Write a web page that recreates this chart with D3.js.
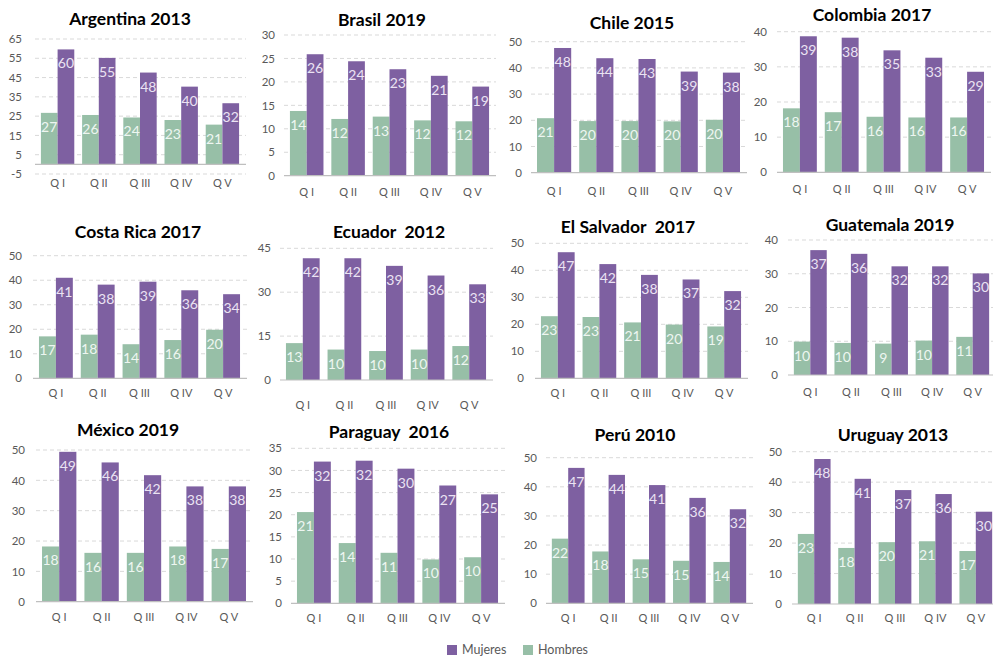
<!DOCTYPE html>
<html>
<head>
<meta charset="utf-8">
<script src="https://cdn.jsdelivr.net/npm/d3@7"></script>
<style>
  html, body { margin: 0; padding: 0; background: #ffffff; }
  svg { display: block; font-family: Lato, "Open Sans", sans-serif; }
</style>
</head>
<body>
<svg id="chart" width="993" height="658"></svg>
<script>
// Quintiles shared by every panel
const quintiles = ["Q I", "Q II", "Q III", "Q IV", "Q V"];
const seriesNames = ["Hombres", "Mujeres"];

// Panel titles
const countries = [
  "Argentina 2013", "Brasil 2019", "Chile 2015", "Colombia 2017",
  "Costa Rica 2017", "Ecuador  2012", "El Salvador  2017", "Guatemala 2019",
  "México 2019", "Paraguay  2016", "Perú 2010", "Uruguay 2013"
];

// Women, by quintile
const mujeres = [
  [59.6, 55.2, 47.6, 40.3, 31.7],
  [25.9, 24.4, 22.7, 21.3, 19.0],
  [47.6, 43.7, 43.4, 38.6, 38.2],
  [38.7, 38.3, 34.7, 32.6, 28.6],
  [41.0, 38.2, 39.4, 35.9, 34.3],
  [41.6, 41.6, 39.0, 35.7, 32.7],
  [46.7, 42.3, 38.3, 36.6, 32.3],
  [37.0, 35.9, 32.2, 32.2, 30.1],
  [49.4, 45.9, 41.7, 38.0, 38.0],
  [32.0, 32.2, 30.4, 26.6, 24.6],
  [46.5, 44.1, 40.6, 36.2, 32.3],
  [47.6, 41.1, 37.4, 36.1, 30.3]
];

// Men, by quintile
const hombres = [
  [26.7, 25.6, 24.3, 23.0, 20.6],
  [13.8, 12.1, 12.6, 11.8, 11.6],
  [20.8, 19.7, 19.7, 19.6, 20.2],
  [18.2, 17.1, 15.8, 15.6, 15.6],
  [17.1, 17.8, 13.9, 15.6, 19.8],
  [12.6, 10.4, 9.9, 10.4, 11.6],
  [23.0, 22.7, 20.7, 19.9, 19.2],
  [9.9, 9.5, 9.3, 10.2, 11.3],
  [18.2, 16.1, 16.1, 18.2, 17.4],
  [20.6, 13.6, 11.4, 9.9, 10.4],
  [22.2, 17.8, 15.1, 14.6, 14.2],
  [23.0, 18.4, 20.3, 20.6, 17.4]
];

// Y-axis tick labels of each panel
const yTicks = [
  [-5, 5, 15, 25, 35, 45, 55, 65],
  [0, 5, 10, 15, 20, 25, 30],
  [0, 10, 20, 30, 40, 50],
  [0, 10, 20, 30, 40],
  [0, 10, 20, 30, 40, 50],
  [0, 15, 30, 45],
  [0, 10, 20, 30, 40, 50],
  [0, 10, 20, 30, 40],
  [0, 10, 20, 30, 40, 50],
  [0, 5, 10, 15, 20, 25, 30, 35],
  [0, 10, 20, 30, 40, 50],
  [0, 10, 20, 30, 40, 50]
];

// Panel placement: plot left/right, pixel rows of the lowest/highest tick,
// title centre, tick-label right edge, category-label row
const layout = [
  { l: 37,  r: 243, top: 39,    bot: 174,   tx: 130, ty: 19,    tr: 22,  xl: 183 },
  { l: 286, r: 493, top: 35,    bot: 175.7, tx: 382, ty: 20,    tr: 275, xl: 192.5 },
  { l: 533, r: 744, top: 41.7,  bot: 172.7, tx: 632, ty: 22.7,  tr: 522, xl: 191.5 },
  { l: 779, r: 988, top: 31.7,  bot: 172.3, tx: 872, ty: 15,    tr: 767, xl: 189 },
  { l: 35,  r: 244, top: 255.7, bot: 378.3, tx: 138, ty: 231.7, tr: 22,  xl: 393 },
  { l: 282, r: 490, top: 248.3, bot: 380,   tx: 389, ty: 231.7, tr: 271, xl: 405 },
  { l: 537, r: 745, top: 243.3, bot: 378.3, tx: 628, ty: 226.7, tr: 524, xl: 393 },
  { l: 790, r: 993, top: 240,   bot: 375,   tx: 890, ty: 225,   tr: 778, xl: 392.5 },
  { l: 38,  r: 250, top: 450,   bot: 601.7, tx: 128, ty: 430,   tr: 25,  xl: 617 },
  { l: 293, r: 502, top: 448.3, bot: 603.3, tx: 389, ty: 431.7, tr: 282, xl: 618 },
  { l: 548, r: 750, top: 457.7, bot: 603.3, tx: 635, ty: 435,   tr: 537, xl: 618 },
  { l: 794, r: 996, top: 451.7, bot: 604,   tx: 893, ty: 435,   tr: 782, xl: 618 }
];

const colors = { Mujeres: "#7e60a1", Hombres: "#97bfa7" };
const labelColors = { Mujeres: "#ebe3f3", Hombres: "#eef6f1" };
const fmt = d3.format(".0f");

const svg = d3.select("#chart");

countries.forEach((title, i) => {
  const L = layout[i];
  const ticks = yTicks[i];
  const g = svg.append("g");

  const y = d3.scaleLinear()
    .domain([ticks[0], ticks[ticks.length - 1]])
    .range([L.bot, L.top]);

  const x = d3.scaleBand()
    .domain(quintiles)
    .range([L.l, L.r])
    .paddingInner(0.19)
    .paddingOuter(0.095);

  const xs = d3.scaleBand()
    .domain(seriesNames)
    .range([0, x.bandwidth()]);

  // dashed gridlines
  g.append("g")
    .selectAll("line")
    .data(ticks.filter(t => t !== 0))
    .join("line")
    .attr("x1", L.l - 2)
    .attr("x2", Math.min(L.r + 3, 993))
    .attr("y1", d => y(d))
    .attr("y2", d => y(d))
    .attr("stroke", "#d9d9d9")
    .attr("stroke-width", 1)
    .attr("stroke-dasharray", "4,3");

  // y tick labels
  const yAxis = d3.axisLeft(y)
    .tickValues(ticks)
    .tickFormat(d => String(d))
    .tickSize(0)
    .tickPadding(0);
  const ya = g.append("g")
    .attr("transform", `translate(${L.tr},0)`)
    .call(yAxis);
  ya.select(".domain").remove();
  ya.selectAll("text")
    .attr("fill", "#595959")
    .attr("font-size", 11.5)
    .attr("font-family", "Lato, 'Open Sans', sans-serif");

  const rows = quintiles.map((q, k) => ({
    q,
    values: [
      { s: "Hombres", v: hombres[i][k] },
      { s: "Mujeres", v: mujeres[i][k] }
    ]
  }));

  const groups = g.append("g")
    .selectAll("g")
    .data(rows)
    .join("g")
    .attr("transform", d => `translate(${x(d.q)},0)`);

  groups.selectAll("rect")
    .data(d => d.values)
    .join("rect")
    .attr("x", d => xs(d.s))
    .attr("width", xs.bandwidth())
    .attr("y", d => y(d.v))
    .attr("height", d => y(0) - y(d.v))
    .attr("fill", d => colors[d.s]);

  groups.selectAll("text")
    .data(d => d.values)
    .join("text")
    .attr("x", d => xs(d.s) + xs.bandwidth() / 2)
    .attr("y", d => y(d.v) + 19)
    .attr("text-anchor", "middle")
    .attr("font-size", 14)
    .attr("fill", d => labelColors[d.s])
    .text(d => fmt(d.v));

  // zero baseline
  g.append("line")
    .attr("x1", L.l - 2)
    .attr("x2", Math.min(L.r + 3, 993))
    .attr("y1", y(0))
    .attr("y2", y(0))
    .attr("stroke", "#bfbfbf")
    .attr("stroke-width", 1.2);

  // category labels
  const xAxis = d3.axisBottom(x).tickSize(0).tickPadding(0);
  const xa = g.append("g")
    .attr("transform", `translate(0,${L.xl})`)
    .call(xAxis);
  xa.select(".domain").remove();
  xa.selectAll("text")
    .attr("fill", "#595959")
    .attr("font-size", 11)
    .attr("dy", "0.35em")
    .attr("font-family", "Lato, 'Open Sans', sans-serif");

  // title
  g.append("text")
    .attr("x", L.tx)
    .attr("y", L.ty)
    .attr("dy", "0.35em")
    .attr("text-anchor", "middle")
    .attr("font-size", 17.5)
    .attr("font-weight", "bold")
    .attr("fill", "#000000")
    .style("white-space", "pre")
    .text(title);
});

// legend
const legendItems = ["Mujeres", "Hombres"];
const legendX = d3.scalePoint().domain(legendItems).range([447, 523]);
const lg = svg.append("g")
  .selectAll("g")
  .data(legendItems)
  .join("g")
  .attr("transform", d => `translate(${legendX(d)},650)`);
lg.append("rect")
  .attr("x", 0)
  .attr("y", -5)
  .attr("width", 10)
  .attr("height", 10)
  .attr("fill", d => colors[d]);
lg.append("text")
  .attr("x", 15)
  .attr("y", 0)
  .attr("dy", "0.35em")
  .attr("font-size", 12.5)
  .attr("fill", "#595959")
  .text(d => d);
</script>
</body>
</html>
